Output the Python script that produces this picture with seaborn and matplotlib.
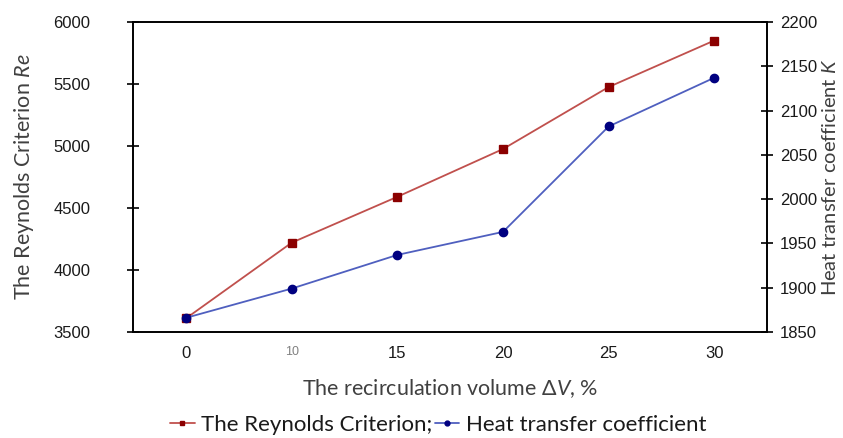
import numpy as np
import pandas as pd
import matplotlib
matplotlib.use("Agg")
import matplotlib.pyplot as plt
import seaborn as sns
from matplotlib.lines import Line2D

# ---- data ----
categories = ["0", "10", "15", "20", "25", "30"]
reynolds = [3610, 4220, 4590, 4975, 5475, 5850]
heat_k = [1866, 1899, 1937, 1963, 2082, 2137]
left_ticks = [3500, 4000, 4500, 5000, 5500, 6000]
right_ticks = [1850, 1900, 1950, 2000, 2050, 2100, 2150, 2200]

sns.set_theme(style="white")
plt.rcParams["font.family"] = ["Liberation Sans", "DejaVu Sans"]
plt.rcParams["mathtext.fontset"] = "custom"
plt.rcParams["mathtext.it"] = "Lato:italic"
plt.rcParams["mathtext.rm"] = "Lato"

df = pd.DataFrame({"x": categories, "re": reynolds, "k": heat_k})

fig = plt.figure(figsize=(8.43, 4.38), dpi=100)
ax = fig.add_axes([0.158, 0.242, 0.752, 0.708])
ax2 = ax.twinx()

red_line = "#C0504D"
red_mark = "#8B0000"
blue_line = "#4F5FBF"
blue_mark = "#000080"

sns.pointplot(data=df, x="x", y="re", ax=ax, color=red_line, markers="s",
              linewidth=1.3, markersize=6, markerfacecolor=red_mark,
              markeredgecolor=red_mark, errorbar=None, zorder=3)
sns.pointplot(data=df, x="x", y="k", ax=ax2, color=blue_line, markers="o",
              linewidth=1.3, markersize=6, markerfacecolor=blue_mark,
              markeredgecolor=blue_mark, errorbar=None, zorder=3)

ax.set_xlim(-0.5, len(categories) - 0.5)
ax.set_ylim(3500, 6000)
ax2.set_ylim(1850, 2200)
ax.set_yticks(left_ticks)
ax2.set_yticks(right_ticks)

for a in (ax, ax2):
    for s in a.spines.values():
        s.set_color("black")
        s.set_linewidth(1.2)
    a.tick_params(axis="both", direction="inout", length=8, width=1.2,
                  colors="black", labelsize=12, labelcolor="#1a1a1a")
    a.grid(False)
ax.tick_params(axis="x", pad=6)
ax.tick_params(axis="y", pad=27)
ax2.tick_params(axis="y", pad=5, left=False)
ax2.tick_params(axis="y", which="both", right=True)

# quirk: "10" label is smaller and gray
lbls = ax.get_xticklabels()
lbls[1].set_fontsize(9)
lbls[1].set_color("#808080")

label_font = dict(family=["Lato", "DejaVu Sans"], color="#404040")
ax.set_xlabel(r"The recirculation volume $\Delta\mathit{V}$, %", fontsize=15.5,
              labelpad=12, **label_font)
ax.set_ylabel(r"The Reynolds Criterion $\mathit{Re}$", fontsize=15.5,
              labelpad=12, **label_font)
ax2.set_ylabel(r"Heat transfer coefficient $\mathit{K}$", fontsize=14.5,
               labelpad=3, rotation=90, **label_font)

handles = [
    Line2D([], [], color=red_line, marker="s", markersize=3.5,
           markerfacecolor=red_mark, markeredgecolor=red_mark, lw=1.3),
    Line2D([], [], color=blue_line, marker="o", markersize=3.5,
           markerfacecolor=blue_mark, markeredgecolor=blue_mark, lw=1.3),
]
fig.legend(handles, ["The Reynolds Criterion;", "Heat transfer coefficient"],
           loc="center", bbox_to_anchor=(0.52, 0.03), ncol=2, frameon=False,
           handlelength=1.1, handletextpad=0.3, columnspacing=0.1,
           prop={"family": ["Lato", "DejaVu Sans"], "size": 16})
for t in fig.legends[0].get_texts():
    t.set_color("#1a1a1a")

fig.savefig("out.png", dpi=100)
